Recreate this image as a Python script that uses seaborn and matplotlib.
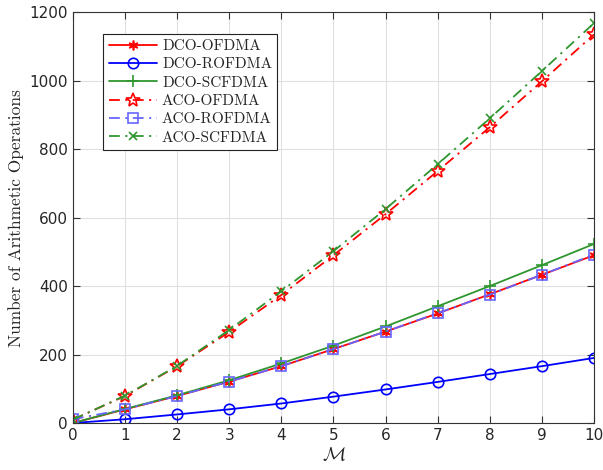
import matplotlib
matplotlib.use("Agg")
import matplotlib.pyplot as plt
import pandas as pd
import seaborn as sns

# --- Data ---
M = [0, 1, 2, 3, 4, 5, 6, 7, 8, 9, 10]
dco_ofdma = [0, 40, 79, 121, 166, 216, 267, 320, 376, 433, 490]
dco_rofdma = [0, 11, 25, 40, 57, 77, 98, 120, 143, 166, 190]
dco_scfdma = [0, 41, 81, 125, 174, 226, 282, 341, 400, 461, 523]
aco_ofdma = [10, 79, 166, 266, 374, 490, 610, 736, 864, 998, 1135]
aco_rofdma = [11, 40, 79, 121, 166, 216, 267, 321, 375, 433, 492]
aco_scfdma = [10, 80, 167, 272, 385, 502, 625, 756, 890, 1028, 1168]

dashdot = (0, (6, 3, 1.2, 3))
series = [
    ("DCO-OFDMA", dco_ofdma, "#ff0000", "-", (6, 2, 0), "#ff0000", 7),
    ("DCO-ROFDMA", dco_rofdma, "#0000ff", "-", "o", "none", 7.5),
    ("DCO-SCFDMA", dco_scfdma, "#2f962f", "-", "+", "#2f962f", 8),
    ("ACO-OFDMA", aco_ofdma, "#ff0000", dashdot, "*", "none", 10),
    ("ACO-ROFDMA", aco_rofdma, "#6666ff", dashdot, "s", "none", 7.5),
    ("ACO-SCFDMA", aco_scfdma, "#2f962f", dashdot, "x", "#2f962f", 6),
]

sns.set_style("ticks")
plt.rcParams["font.family"] = ["DejaVu Sans"]
plt.rcParams["mathtext.fontset"] = "cm"

fig = plt.figure(figsize=(6.03, 4.70), dpi=100)
ax = fig.add_axes([0.121, 0.1, 0.864, 0.874])

for name, vals, color, ls, mk, mfc, ms in series:
    df = pd.DataFrame({"M": M, "ops": vals})
    sns.lineplot(data=df, x="M", y="ops", ax=ax, color=color, linestyle=ls,
                 marker=mk, markersize=ms, markerfacecolor=mfc,
                 markeredgecolor=color, markeredgewidth=1.2, linewidth=1.3,
                 label=name)

ax.set_xlim(0, 10)
ax.set_ylim(0, 1200)
ax.set_xticks(range(0, 11))
ax.set_yticks(range(0, 1201, 200))
ax.grid(True, color="#e0e0e0", linewidth=0.8)
ax.tick_params(direction="in", top=True, right=True, labelsize=11, length=5,
               color="#333333")
for sp in ax.spines.values():
    sp.set_color("#333333")
    sp.set_linewidth(0.8)
    sp.set_visible(True)

ax.set_xlabel(r"$\mathcal{M}$", fontsize=14, labelpad=2)
ax.set_ylabel("Number of Arithmetic Operations", family="cmr10", fontsize=12.5)

leg = ax.legend(loc="upper left", bbox_to_anchor=(0.058, 0.947), frameon=True,
                fancybox=False, edgecolor="#222222", framealpha=1,
                prop={"family": "cmr10", "size": 11}, handlelength=3.2,
                numpoints=1, labelspacing=0.3, borderpad=0.35,
                handletextpad=0.3, borderaxespad=0)
leg.get_frame().set_linewidth(0.8)

fig.savefig("out.png", dpi=100)
